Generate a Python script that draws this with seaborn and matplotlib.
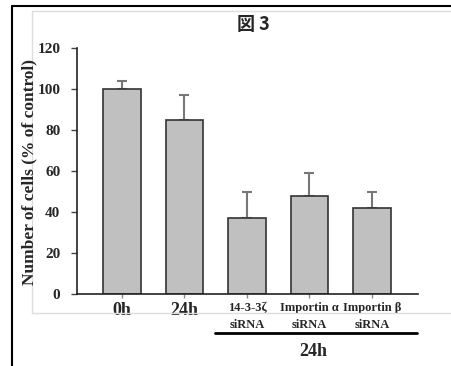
import matplotlib
matplotlib.use("Agg")
import matplotlib.pyplot as plt
import seaborn as sns
import pandas as pd
from matplotlib.lines import Line2D

categories = ["0h", "24h", "14-3-3ζ\nsiRNA", "Importin α\nsiRNA", "Importin β\nsiRNA"]
values = [100, 85, 37, 48, 42]
errors = [4, 12, 13, 11, 8]
yticks = [0, 20, 40, 60, 80, 100, 120]

sns.set_theme(style="white")
plt.rcParams['font.family'] = ['Liberation Serif', 'DejaVu Serif']

df = pd.DataFrame({"cond": categories, "val": values})

fig = plt.figure(figsize=(4.52, 3.66), dpi=100)
W, H = 452, 366
ax = fig.add_axes([77 / W, 1 - 294 / H, (418 - 77) / W, (294 - 48) / H])

sns.barplot(data=df, x="cond", y="val", ax=ax, color="#c0c0c0", width=0.6,
            edgecolor="#333333", linewidth=1.2, errorbar=None, saturation=1)
ax.errorbar(range(len(values)), values, yerr=[[0] * len(values), errors], fmt="none",
            ecolor="#777777", elinewidth=1.5, capsize=3.5, capthick=1.5, zorder=0)

ax.set_xlim(-0.72, 4.74)
ax.set_ylim(0, 120)
ax.set_yticks(yticks)
ax.set_yticklabels([str(t) for t in yticks], fontsize=11, fontweight="bold")
ax.set_xlabel("")
ax.set_ylabel("")
fig.text(29 / W, 1 - 172 / H, "Number of cells (% of control)", rotation=90,
         ha="center", va="center", fontsize=12.5, fontweight="bold")

ax.set_xticks(range(len(categories)))
labs = ax.set_xticklabels(categories, fontweight="bold")
for i, t in enumerate(labs):
    t.set_fontsize(13 if i < 2 else 9)
    t.set_linespacing(1.55)

for s in ["top", "right"]:
    ax.spines[s].set_visible(False)
for s in ["left", "bottom"]:
    ax.spines[s].set_color("#222222")
    ax.spines[s].set_linewidth(1.2)
ax.tick_params(axis="y", direction="out", length=4, width=1, color="#444444", pad=8, left=True)
ax.tick_params(axis="x", direction="out", length=3, width=1, color="#888888", pad=3, bottom=True)

# 24h group bracket
fig.add_artist(Line2D([215 / W, 417 / W], [1 - 333 / H, 1 - 333 / H], color="black", lw=2))
fig.text(313 / W, 1 - 351 / H, "24h", ha="center", va="center", fontsize=13, fontweight="bold")

# title
fig.text(253 / W, 1 - 25 / H, "図 3", ha="center", va="center", fontsize=13,
         fontweight="bold", family=["Noto Sans CJK JP", "DejaVu Sans"])

# frames
fig.add_artist(Line2D([12 / W, 12 / W], [0, 1 - 6 / H], color="black", lw=1.5))
fig.add_artist(Line2D([12 / W, 1], [1 - 6 / H, 1 - 6 / H], color="black", lw=1.5))
fig.add_artist(Line2D([32 / W, 32 / W], [1 - 313 / H, 1 - 11 / H], color="#dddddd", lw=1))
fig.add_artist(Line2D([32 / W, 1], [1 - 11 / H, 1 - 11 / H], color="#dddddd", lw=1))
fig.add_artist(Line2D([32 / W, 1], [1 - 313 / H, 1 - 313 / H], color="#dddddd", lw=1))

fig.savefig("out.png", dpi=100)
